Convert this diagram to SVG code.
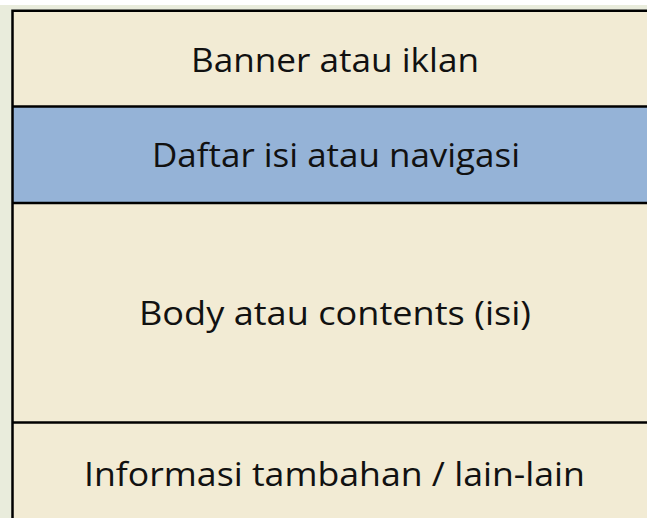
<svg xmlns="http://www.w3.org/2000/svg" width="647" height="518" viewBox="0 0 647 518">
<style>
.t{font-family:"Open Sans","Noto Sans","Liberation Sans",sans-serif;font-size:33.5px;fill:#111;text-anchor:middle}
.cream{fill:#f2ebd4}
.line{stroke:#000;stroke-width:2.5;fill:none}
</style>
<rect x="0" y="0" width="647" height="518" fill="#ffffff"/>
<rect x="0" y="5" width="647" height="513" fill="#e9ecdc"/>
<g id="banner">
<rect class="cream" x="12" y="10" width="635" height="96"/>
<text class="t" x="335" y="72" textLength="288" lengthAdjust="spacingAndGlyphs">Banner atau iklan</text>
</g>
<g id="daftar">
<rect x="12" y="106" width="635" height="97" fill="#95b3d7"/>
<text class="t" x="336" y="167" textLength="368" lengthAdjust="spacingAndGlyphs">Daftar isi atau navigasi</text>
</g>
<g id="body">
<rect class="cream" x="12" y="203" width="635" height="219"/>
<text class="t" x="335" y="325" textLength="392" lengthAdjust="spacingAndGlyphs">Body atau contents (isi)</text>
</g>
<g id="info">
<rect class="cream" x="12" y="422" width="635" height="96"/>
<text class="t" x="334.5" y="486" textLength="501" lengthAdjust="spacingAndGlyphs">Informasi tambahan / lain-lain</text>
</g>
<g id="connectors">
<path class="line" d="M12.5 518 V10.8 H647" stroke-width="3"/>
<line class="line" x1="12" y1="106.5" x2="647" y2="106.5" stroke="#222"/>
<line class="line" x1="12" y1="203" x2="647" y2="203" stroke="#222"/>
<line class="line" x1="12" y1="422.5" x2="647" y2="422.5"/>
</g>
</svg>
